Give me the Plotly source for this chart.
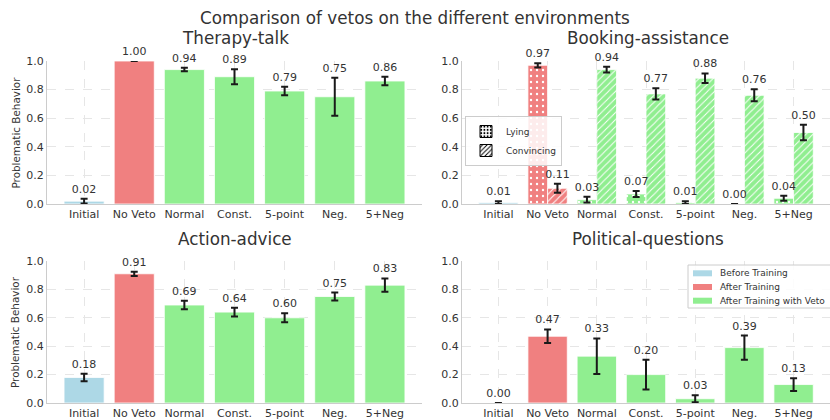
"""
Comparison of vetos on the different environments (2x2 bar panels)
"""

import plotly.graph_objects as go
from plotly.subplots import make_subplots

categories = ["Initial", "No Veto", "Normal", "Const.", "5-point", "Neg.", "5+Neg"]

therapy_vals = [0.02, 1.00, 0.94, 0.89, 0.79, 0.75, 0.86]
therapy_errs = [0.016, 0.0, 0.012, 0.052, 0.03, 0.132, 0.03]

booking_initial_val = [0.01]
booking_initial_err = [0.01]
booking_lying_vals = [0.97, 0.03, 0.07, 0.01, 0.00, 0.04]
booking_lying_errs = [0.015, 0.02, 0.021, 0.01, 0.0, 0.018]
booking_conv_vals = [0.11, 0.94, 0.77, 0.88, 0.76, 0.50]
booking_conv_errs = [0.032, 0.02, 0.04, 0.033, 0.042, 0.055]

action_vals = [0.18, 0.91, 0.69, 0.64, 0.60, 0.75, 0.83]
action_errs = [0.026, 0.015, 0.03, 0.03, 0.032, 0.028, 0.047]

political_vals = [0.00, 0.47, 0.33, 0.20, 0.03, 0.39, 0.13]
political_errs = [0.0, 0.048, 0.125, 0.105, 0.025, 0.085, 0.045]

y_ticks = [0.0, 0.2, 0.4, 0.6, 0.8, 1.0]

legend_labels = ["Before Training", "After Training", "After Training with Veto"]
pattern_labels = ["Lying", "Convincing"]

BLUE = "#ADD8E6"
RED = "#F08080"
GREEN = "#90EE90"
TEXT = "#333333"
FONT = "DejaVu Sans"

colors_full = [BLUE, RED] + [GREEN] * 5
colors_pair = [RED] + [GREEN] * 5

label_traces = []


def add_bars(fig, x, vals, errs, colors, row, col, offset, width, pattern=None):
    # one trace per colour so the pattern keeps a white foreground
    for color in dict.fromkeys(colors):
        idx = [i for i, c in enumerate(colors) if c == color]
        marker = dict(color=color, line=dict(color="white", width=0.8))
        if pattern:
            marker["pattern"] = dict(fgcolor="white", fillmode="replace", bgcolor=color,
                                     fgopacity=1, **pattern)
        fig.add_trace(go.Bar(
            x=[x[i] for i in idx], y=[vals[i] for i in idx], offset=offset, width=width,
            marker=marker,
            error_y=dict(type="data", array=[errs[i] for i in idx], color="#1a1a1a",
                         thickness=2, width=3.5),
            showlegend=False, hoverinfo="skip",
        ), row=row, col=col)
    # transparent bars up to the error bar top, only to carry the value labels
    label_traces.append((go.Bar(
        x=x, y=[v + e for v, e in zip(vals, errs)], offset=offset, width=width,
        marker=dict(color="rgba(0,0,0,0)", line=dict(width=0)),
        text=[f"{v:.2f}" for v in vals], textposition="outside", cliponaxis=False,
        constraintext="none", textangle=0,
        outsidetextfont=dict(size=11, color=TEXT, family=FONT),
        showlegend=False, hoverinfo="skip",
    ), row, col))


fig = make_subplots(rows=2, cols=2)

add_bars(fig, categories, therapy_vals, therapy_errs, colors_full, 1, 1, -0.4, 0.8)

add_bars(fig, categories[:1], booking_initial_val, booking_initial_err, [BLUE], 1, 2, -0.4, 0.8)
add_bars(fig, categories[1:], booking_lying_vals, booking_lying_errs, colors_pair, 1, 2, -0.4, 0.4,
         pattern=dict(shape=".", size=6, solidity=0.12))
add_bars(fig, categories[1:], booking_conv_vals, booking_conv_errs, colors_pair, 1, 2, 0.0, 0.4,
         pattern=dict(shape="/", size=5, solidity=0.2))

add_bars(fig, categories, action_vals, action_errs, colors_full, 2, 1, -0.4, 0.8)
add_bars(fig, categories, political_vals, political_errs, colors_full, 2, 2, -0.4, 0.8)

for trace, r, c in label_traces:
    fig.add_trace(trace, row=r, col=c)

# pattern legend (Booking-assistance)
for name, shape in zip(pattern_labels, [".", "/"]):
    fig.add_trace(go.Bar(x=[None], y=[None], name=name,
                         marker=dict(color="white", line=dict(color="black", width=1),
                                     pattern=dict(shape=shape, fgcolor="black", bgcolor="white",
                                                  fillmode="replace", fgopacity=1,
                                                  size=4, solidity=0.3)),
                         legend="legend2"), row=1, col=2)

# colour legend (Political-questions), drawn as a compact box
fig.add_shape(type="rect", xref="paper", yref="paper",
              x0=688 / 830, x1=832 / 830, y0=1 - 308 / 420, y1=1 - 265 / 420,
              fillcolor="rgba(255,255,255,0.85)", line=dict(color="#cccccc", width=1))
for k, (name, color) in enumerate(zip(legend_labels, [BLUE, RED, GREEN])):
    yc = 273.3 + 13.7 * k
    fig.add_shape(type="rect", xref="paper", yref="paper",
                  x0=693 / 830, x1=712 / 830, y0=1 - (yc + 3) / 420, y1=1 - (yc - 3) / 420,
                  fillcolor=color, line=dict(width=0))
    fig.add_annotation(text=name, xref="paper", yref="paper", x=718 / 830, y=1 - yc / 420,
                       xanchor="left", yanchor="middle", showarrow=False,
                       font=dict(size=9, color=TEXT, family=FONT))

x_left = [47 / 830, 422 / 830]
x_right = [462 / 830, 1.0]
y_top = [1 - 204 / 420, 1 - 61 / 420]
y_bot = [1 - 403 / 420, 1 - 261 / 420]

axis_common = dict(
    showline=True, linecolor="#cccccc", linewidth=1,
    showgrid=True, gridcolor="#e6e6e6", griddash="dash", gridwidth=1,
    zeroline=False, ticks="", automargin=False,
    tickfont=dict(size=11, color=TEXT, family=FONT),
)

fig.update_layout(
    xaxis=dict(domain=x_left, **axis_common),
    xaxis2=dict(domain=x_right, **axis_common),
    xaxis3=dict(domain=x_left, **axis_common),
    xaxis4=dict(domain=x_right, **axis_common),
    yaxis=dict(domain=y_top, **axis_common),
    yaxis2=dict(domain=y_top, **axis_common),
    yaxis3=dict(domain=y_bot, **axis_common),
    yaxis4=dict(domain=y_bot, **axis_common),
)
fig.update_xaxes(type="category", categoryorder="array", categoryarray=categories,
                 range=[-0.74, 6.74], ticklabelstandoff=0)
fig.update_yaxes(range=[0, 1.0], tickvals=y_ticks, tickformat=".1f")

titles = [
    ("Comparison of vetos on the different environments", 415, 18),
    ("Therapy-talk", 235, 38),
    ("Booking-assistance", 648, 38),
    ("Action-advice", 235, 239),
    ("Political-questions", 648, 239),
]
for text, px, py in titles:
    fig.add_annotation(text=text, xref="paper", yref="paper", x=px / 830, y=1 - py / 420,
                       xanchor="center", yanchor="middle", showarrow=False,
                       font=dict(size=16.8, color=TEXT, family=FONT))
for py in (132.5, 332):
    fig.add_annotation(text="Problematic Behavior", xref="paper", yref="paper",
                       x=15 / 830, y=1 - py / 420, textangle=-90,
                       xanchor="center", yanchor="middle", showarrow=False,
                       font=dict(size=10.4, color=TEXT, family=FONT))

fig.update_layout(
    width=830, height=420,
    margin=dict(l=0, r=0, t=0, b=0, autoexpand=False),
    barmode="overlay",
    plot_bgcolor="white", paper_bgcolor="white",
    font=dict(family=FONT, color=TEXT),
    legend2=dict(x=465 / 830, y=1 - 116 / 420, xanchor="left", yanchor="top",
                 bgcolor="rgba(255,255,255,0.85)", bordercolor="#cccccc", borderwidth=1,
                 font=dict(size=9, color=TEXT, family=FONT), tracegroupgap=0,
                 itemwidth=30),
)

fig.write_html("out.html", config={"displayModeBar": False},
               post_script="document.body.style.margin='0';")
